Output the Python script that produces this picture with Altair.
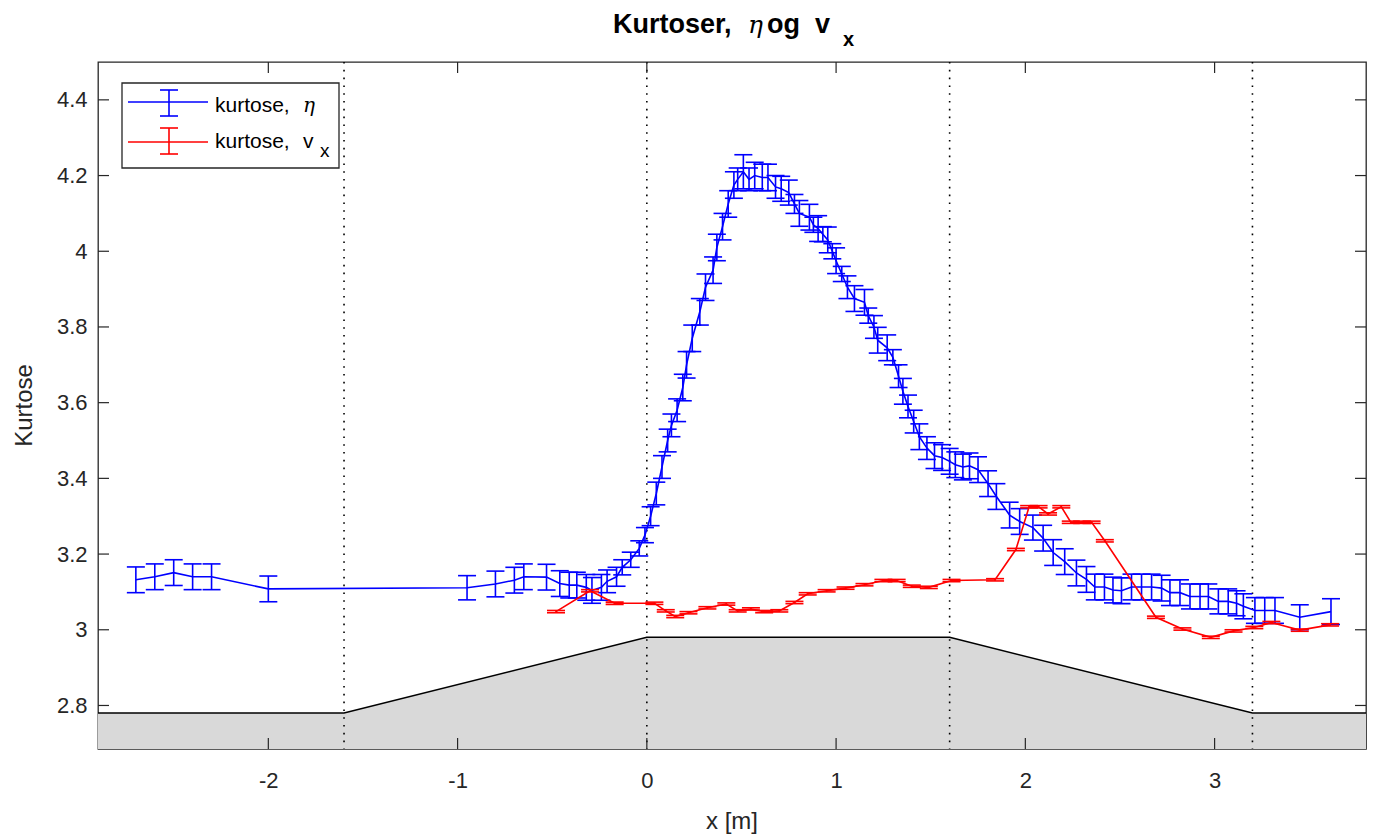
import altair as alt
import pandas as pd

# ---- data ----
eta_x = [-2.70, -2.60, -2.50, -2.40, -2.30, -2.00,
         -0.95, -0.80, -0.70, -0.65, -0.53, -0.46, -0.41, -0.37, -0.32, -0.29, -0.24, -0.21, -0.16, -0.13,
         -0.085, -0.04, -0.01, 0.02, 0.05, 0.08, 0.11, 0.13, 0.16, 0.19, 0.21, 0.24, 0.28, 0.31, 0.35,
         0.37, 0.40, 0.43, 0.46, 0.48, 0.51, 0.54, 0.57, 0.61, 0.64, 0.68, 0.71, 0.75, 0.78, 0.806,
         0.859, 0.88, 0.905, 0.93, 0.956, 0.98, 1.00, 1.03, 1.06, 1.097, 1.15, 1.17, 1.20, 1.22, 1.27,
         1.30, 1.33, 1.353, 1.38, 1.41, 1.44, 1.48, 1.52, 1.56, 1.60, 1.63, 1.67, 1.705, 1.75, 1.803,
         1.847, 1.917, 1.97, 2.04, 2.094, 2.147, 2.208, 2.27, 2.323, 2.367, 2.418, 2.463, 2.508, 2.561,
         2.614, 2.667, 2.72, 2.764, 2.817, 2.87, 2.923, 2.967, 3.02, 3.072, 3.116, 3.152, 3.213, 3.265,
         3.319, 3.45, 3.615]
eta_y = [3.132, 3.140, 3.151, 3.140, 3.140, 3.108,
         3.111, 3.121, 3.131, 3.140, 3.139, 3.122, 3.118, 3.118, 3.112, 3.104, 3.112, 3.128, 3.140, 3.165,
         3.185, 3.215, 3.250, 3.300, 3.360, 3.430, 3.500, 3.540, 3.580, 3.640, 3.700, 3.770, 3.840, 3.905, 3.950,
         4.010, 4.065, 4.125, 4.175, 4.190, 4.210, 4.190, 4.200, 4.195, 4.195, 4.170, 4.165, 4.155, 4.125, 4.100,
         4.090, 4.070, 4.060, 4.045, 4.030, 4.000, 3.975, 3.940, 3.905, 3.875, 3.865, 3.830, 3.800, 3.765, 3.745,
         3.720, 3.670, 3.630, 3.590, 3.550, 3.510, 3.480, 3.460, 3.455, 3.445, 3.436, 3.430, 3.433, 3.423, 3.386,
         3.352, 3.303, 3.286, 3.270, 3.242, 3.204, 3.180, 3.150, 3.133, 3.113, 3.113, 3.105, 3.103, 3.113,
         3.113, 3.113, 3.110, 3.098, 3.098, 3.088, 3.088, 3.088, 3.075, 3.075, 3.070, 3.062, 3.051, 3.051,
         3.051, 3.033, 3.048]
eta_err = [0.034, 0.034, 0.034, 0.034, 0.034, 0.034,
           0.032, 0.034, 0.034, 0.034, 0.034, 0.034, 0.034, 0.034, 0.034, 0.034, 0.034, 0.030, 0.025, 0.020,
           0.020, 0.020, 0.020, 0.025, 0.030, 0.030, 0.030, 0.030, 0.030, 0.035, 0.035, 0.035, 0.035, 0.035, 0.035,
           0.035, 0.035, 0.035, 0.035, 0.030, 0.045, 0.030, 0.035, 0.035, 0.035, 0.030, 0.033, 0.033, 0.025, 0.034,
           0.034, 0.020, 0.034, 0.020, 0.034, 0.020, 0.034, 0.020, 0.030, 0.034, 0.034, 0.020, 0.030, 0.034, 0.034,
           0.020, 0.030, 0.034, 0.030, 0.030, 0.034, 0.030, 0.034, 0.034, 0.034, 0.034, 0.034, 0.034, 0.034, 0.034,
           0.034, 0.034, 0.034, 0.033, 0.034, 0.034, 0.034, 0.034, 0.034, 0.034, 0.034, 0.034, 0.034, 0.034,
           0.034, 0.034, 0.034, 0.034, 0.034, 0.033, 0.033, 0.033, 0.033, 0.033, 0.033, 0.033, 0.034, 0.034,
           0.034, 0.033, 0.034]

vx_x = [-0.48, -0.30, -0.17, 0.04, 0.10, 0.15, 0.22, 0.32, 0.42, 0.48, 0.55, 0.62, 0.70, 0.78, 0.85,
        0.95, 1.05, 1.15, 1.25, 1.32, 1.40, 1.49, 1.61, 1.84, 1.95, 2.02, 2.07, 2.12, 2.19, 2.24, 2.30,
        2.35, 2.42, 2.69, 2.83, 2.98, 3.10, 3.21, 3.30, 3.45, 3.61]
vx_y = [3.048, 3.103, 3.070, 3.070, 3.050, 3.035, 3.045, 3.058, 3.068, 3.050, 3.055, 3.048, 3.050, 3.072, 3.095,
        3.103, 3.110, 3.119, 3.130, 3.130, 3.115, 3.112, 3.130, 3.132, 3.212, 3.325, 3.325, 3.306, 3.325, 3.284, 3.284,
        3.284, 3.235, 3.033, 3.002, 2.980, 2.997, 3.006, 3.019, 2.999, 3.013]
vx_err = [0.003] * len(vx_x)

bed_x = [-2.9, -1.6, 0.0, 1.6, 3.2, 3.8]
bed_y = [2.78, 2.78, 2.98, 2.98, 2.78, 2.78]
section_x = [-1.6, 0.0, 1.6, 3.2]
x_ticks = [-2, -1, 0, 1, 2, 3]
y_ticks = [2.8, 3.0, 3.2, 3.4, 3.6, 3.8, 4.0, 4.2, 4.4]

W, H = 1268, 687
Y_MIN, Y_MAX = 2.685, 4.5
FONT = "Liberation Sans"
INK = "#262626"
BLUE = "#0000ff"
RED = "#ff0000"

eta = pd.DataFrame({"x": eta_x, "y": eta_y})
eta["lo"] = eta["y"] - pd.Series(eta_err)
eta["hi"] = eta["y"] + pd.Series(eta_err)
vx = pd.DataFrame({"x": vx_x, "y": vx_y})
vx["lo"] = vx["y"] - pd.Series(vx_err)
vx["hi"] = vx["y"] + pd.Series(vx_err)
bed = pd.DataFrame({"x": bed_x, "y": bed_y})
sec = pd.DataFrame({"x": section_x})
xt = pd.DataFrame({"v": x_ticks})
yt = pd.DataFrame({"v": y_ticks})
one = pd.DataFrame({"d": [0]})

xs = alt.Scale(domain=[-2.9, 3.8], nice=False, zero=False)
ys = alt.Scale(domain=[Y_MIN, Y_MAX], nice=False, zero=False)

xaxis = alt.Axis(values=x_ticks, labelExpr="toString(datum.value)", ticks=False, tickSize=0, domain=False,
                 grid=False, zindex=2, labelFont=FONT, labelFontSize=22, labelColor=INK, labelPadding=21,
                 title=None)
yaxis = alt.Axis(values=y_ticks, format=".1~f", ticks=False, tickSize=0, domain=False, grid=False, zindex=2,
                 labelFont=FONT, labelFontSize=22, labelColor=INK, labelPadding=11, title=None)


def X(f):
    return alt.X(f, type="quantitative", scale=xs, axis=xaxis)


def Y(f):
    return alt.Y(f, type="quantitative", scale=ys, axis=yaxis)


bed_area = alt.Chart(bed).mark_area(color="#d9d9d9", opacity=1, clip=True).encode(
    x=X("x"), y=Y("y"), y2=alt.datum(Y_MIN))
bed_line = alt.Chart(bed).mark_line(color="black", strokeWidth=1.5).encode(x=X("x"), y=Y("y"))
sections = alt.Chart(sec).mark_rule(color="black", strokeWidth=1.6, strokeDash=[1.6, 6.2]).encode(
    x=X("x"), y=alt.value(0), y2=alt.value(H))


def series(df, color, cap=18):
    line = alt.Chart(df).mark_line(color=color, strokeWidth=1.6).encode(x=X("x"), y=Y("y"))
    bars = alt.Chart(df).mark_rule(color=color, strokeWidth=1.6).encode(x=X("x"), y=Y("lo"), y2=alt.Y2("hi"))
    lo = alt.Chart(df).mark_tick(color=color, orient="horizontal", size=cap, thickness=1.6, opacity=1).encode(
        x=X("x"), y=Y("lo"))
    hi = alt.Chart(df).mark_tick(color=color, orient="horizontal", size=cap, thickness=1.6, opacity=1).encode(
        x=X("x"), y=Y("hi"))
    return [line, bars, lo, hi]


# inward ticks on all four sides
tb = alt.Chart(xt).mark_rule(color=INK, strokeWidth=1.2).encode(x=X("v"), y=alt.value(H), y2=alt.value(H - 11))
tt = alt.Chart(xt).mark_rule(color=INK, strokeWidth=1.2).encode(x=X("v"), y=alt.value(0), y2=alt.value(11))
tl = alt.Chart(yt).mark_rule(color=INK, strokeWidth=1.2).encode(y=Y("v"), x=alt.value(0), x2=alt.value(11))
tr = alt.Chart(yt).mark_rule(color=INK, strokeWidth=1.2).encode(y=Y("v"), x=alt.value(W), x2=alt.value(W - 11))


def seg(x1, x2, y1, y2, color, w=1.6):
    return alt.Chart(one).mark_rule(color=color, strokeWidth=w).encode(
        x=alt.value(x1), x2=alt.value(x2), y=alt.value(y1), y2=alt.value(y2))


def txt(s, x, y, size=21, weight="normal", style="normal", align="left", baseline="alphabetic",
        angle=0, font=FONT, color="black"):
    return alt.Chart(one).mark_text(text=s, font=font, fontSize=size, fontWeight=weight, fontStyle=style,
                                    align=align, baseline=baseline, angle=angle, color=color).encode(
        x=alt.value(x), y=alt.value(y))


legend_box = alt.Chart(one).mark_rect(fill="white", stroke=INK, strokeWidth=1.3).encode(
    x=alt.value(24), x2=alt.value(241), y=alt.value(21), y2=alt.value(106))
legend = [
    legend_box,
    seg(30, 110, 40, 40, BLUE), seg(71, 71, 28, 54, BLUE), seg(62, 80, 28, 28, BLUE), seg(62, 80, 54, 54, BLUE),
    seg(30, 110, 80, 80, RED), seg(71, 71, 66, 92, RED), seg(62, 80, 66, 66, RED), seg(62, 80, 92, 92, RED),
    txt("kurtose,", 117, 50), txt("\u03b7", 205, 50, style="italic", font="DejaVu Serif", size=20),
    txt("kurtose,", 117, 86), txt("v", 205, 86), txt("x", 222, 95, size=19),
]

titles = [
    txt("Kurtoser,", 515, -29, size=27, weight="bold"),
    txt("\u03b7", 650, -29, size=25, style="italic", font="DejaVu Serif"),
    txt("og", 669, -29, size=27, weight="bold"),
    txt("v", 717, -29, size=27, weight="bold"),
    txt("x", 745, -16, size=20, weight="bold"),
    txt("x [m]", W / 2, 767, size=24, align="center", color=INK),
    txt("Kurtose", -73, H / 2, size=24, align="center", baseline="middle", angle=270, color=INK),
]

layers = [bed_area, bed_line, sections] + series(eta, BLUE) + series(vx, RED) + [tb, tt, tl, tr] + legend + titles

chart = alt.layer(*layers).properties(
    width=W, height=H,
    autosize=alt.AutoSizeParams(type="none"),
    padding={"left": 98, "top": 62, "right": 8, "bottom": 87},
    background="white",
).configure_view(stroke=INK, strokeWidth=1.3)

chart.save("out.html", embed_options={"renderer": "svg", "actions": False})
